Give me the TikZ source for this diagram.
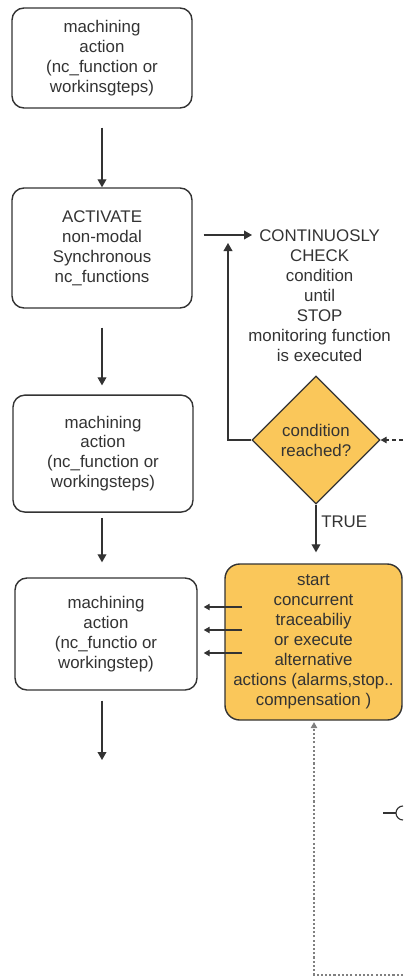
\documentclass[tikz,border=0pt]{standalone}
\usepackage{fontspec}
\setmainfont{Liberation Sans}
\usepackage{tikz}
\usetikzlibrary{arrows.meta,positioning,calc,shapes.geometric}
\definecolor{linegray}{HTML}{333333}
\definecolor{condorange}{RGB}{250,199,90}

\begin{document}
\begin{tikzpicture}[x=1cm,y=1cm,
  every node/.style={text=linegray, font=\fontsize{12}{14.2}\selectfont},
  box/.style={draw=linegray, fill=white, rounded corners=8.5pt, line width=1pt,
              minimum width=4.5cm, align=center},
  alarm/.style={draw=linegray, fill=condorange, rounded corners=10.5pt, line width=1pt,
                minimum width=4.425cm, minimum height=3.9cm, align=center},
  decision/.style={diamond, draw=linegray, fill=condorange, line width=0.8pt,
                   aspect=1, inner sep=0pt, minimum size=3.2cm, align=center},
  note/.style={align=center, inner sep=0pt},
  arr/.style={-{Triangle[length=0.2cm,width=0.22cm]}, draw=linegray, line width=0.8pt},
  smallarr/.style={-{Triangle[length=0.15cm,width=0.16cm]}, draw=linegray, line width=0.8pt}
]
\useasboundingbox (0,0) rectangle (10.075,-24.425);

\node[box, minimum height=2.5cm]   (act1)  at (2.55,-1.45)  {machining\\action\\(nc\_function or\\workinsgteps)};
\node[box, minimum height=3cm]     (activ) at (2.55,-6.2)   {ACTIVATE\\non-modal\\Synchronous\\nc\_functions};
\node[box, minimum height=2.925cm] (act2)  at (2.575,-11.34) {machining\\action\\(nc\_function or\\workingsteps)};
\node[box, minimum width=4.55cm, minimum height=2.8cm] (act3) at (2.65,-15.85) {machining\\action\\(nc\_functio or\\workingstep)};

\node[note]     (check) at (7.99,-7.39) {CONTINUOSLY\\CHECK\\condition\\until\\STOP\\monitoring function\\is executed};
\node[decision] (cond)  at (7.9,-11.0)  {condition\\reached?};
\node[alarm]    (alt)   at (7.8375,-16.05) {start\\concurrent\\traceabiliy\\or execute\\alternative\\actions (alarms,stop..\\compensation )};

\coordinate (chkin)     at (6.3,-5.875);
\coordinate (loopend)   at (5.7,-6.075);
\coordinate (fbin)      at (10.075,-11.0);
\coordinate (out)       at (2.55,-19.0);
\coordinate (dotcorner) at (7.85,-24.375);
\coordinate (dotend)    at (10.075,-24.375);

\draw[arr, shorten <=0.475cm] (act1) -- (activ);
\draw[arr, shorten <=0.475cm, shorten >=0.225cm] (activ.south) -- (activ.south |- act2.north);
\draw[arr, shorten <=0.125cm, shorten >=0.375cm] (out |- act2.south) -- (out |- act3.north);
\draw[arr, shorten <=0.25cm] (out |- act3.south) -- (out);

\draw[arr, shorten <=0.275cm] (activ.east |- chkin) -- (chkin);
\draw[arr] (cond.west) -| (loopend);
\draw[smallarr, dashed, dash pattern=on 3pt off 2pt] (fbin) -- (cond.east);
\draw[arr, shorten >=0.275cm] (cond.south) -- node[right, pos=0.3]{TRUE} (cond.south |- alt.north);

\foreach \y in {-15.175,-15.75,-16.325}
  \draw[smallarr, shorten <=-0.45cm, shorten >=0.15cm] (alt.west |- 0,\y) -- (act3.east |- 0,\y);

\draw[smallarr, draw=gray, line width=1.2pt, dash pattern=on 1.5pt off 1.5pt, shorten >=1pt]
  (dotend) -- (dotcorner) -- (alt.south -| dotcorner);

% cut-off interface symbol at the right edge
\draw[linegray, line width=2pt] (9.575,-20.325) -- (9.9,-20.325);
\draw[linegray, line width=0.8pt] (10.075,-20.15) arc[start angle=90, end angle=270, radius=0.175cm];
\end{tikzpicture}
\end{document}
